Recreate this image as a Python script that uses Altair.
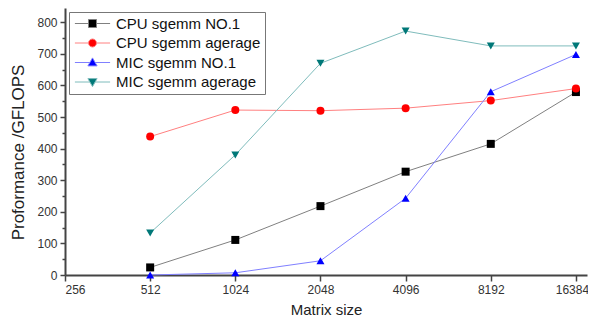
import altair as alt
import pandas as pd

# ---- data ----
sizes = [512, 1024, 2048, 4096, 8192, 16384]
series_names = ["CPU sgemm NO.1", "CPU sgemm agerage", "MIC sgemm NO.1", "MIC sgemm agerage"]
cpu_no1 = [24, 111, 218, 327, 415, 579]
cpu_avg = [438, 522, 520, 528, 552, 590]
mic_no1 = [0, 7, 45, 243, 580, 698]
mic_avg = [133, 380, 670, 772, 725, 725]
x_ticks = [256, 512, 1024, 2048, 4096, 8192, 16384]
y_ticks = [0, 100, 200, 300, 400, 500, 600, 700, 800]
y_minor = [50, 150, 250, 350, 450, 550, 650, 750]

# ---- styles ----
marker_colors = ["#000000", "#ff0000", "#0000ff", "#007878"]
line_colors = ["#808080", "#ff8080", "#8080ff", "#7fbcbc"]
marker_shapes = ["square", "circle", "triangle-up", "triangle-down"]
legend_paths = [
    "M-4.4,0H-1M1,0H4.4M-1,-1H1V1H-1Z",
    "M-4.4,0H-1M1,0H4.4M-1,0A1,1,0,1,0,1,0A1,1,0,1,0,-1,0Z",
    "M-4.4,0H-0.66M0.66,0H4.4M0,-1.15L1.15,0.85L-1.15,0.85Z",
    "M-4.4,0H-0.66M0.66,0H4.4M0,1.15L1.15,-0.85L-1.15,-0.85Z",
]
FONT = "Liberation Sans"

rows = []
for name, vals in zip(series_names, [cpu_no1, cpu_avg, mic_no1, mic_avg]):
    for s, v in zip(sizes, vals):
        rows.append({"size": s, "value": v, "series": name})
df = pd.DataFrame(rows)

x_enc = alt.X(
    "size:Q",
    scale=alt.Scale(type="log", base=2, domain=[256, 17928], nice=False),
    axis=alt.Axis(
        values=x_ticks, format="d", title="Matrix size", grid=False,
        domainColor="#444", domainWidth=2, tickColor="#444", tickWidth=1.5, tickSize=6,
        labelFont=FONT, labelFontSize=12, labelColor="#333", labelPadding=3,
        labelOffset={"condition": {"test": "datum.value == 16384", "value": -4}, "value": 0},
        titleFont=FONT, titleFontSize=15, titleFontWeight="normal", titleColor="#222",
        titlePadding=7,
    ),
)
y_scale = alt.Scale(domain=[0, 845], nice=False, zero=True)

base = alt.Chart(df)

lines = base.mark_line(strokeWidth=1).encode(
    x=x_enc,
    y=alt.Y(
        "value:Q", scale=y_scale,
        axis=alt.Axis(
            values=y_ticks, title="Proformance /GFLOPS", grid=False, orient="left",
            domainColor="#444", domainWidth=2, tickColor="#444", tickWidth=1.5, tickSize=5,
            labelFont=FONT, labelFontSize=12, labelColor="#333", labelPadding=3,
            titleFont=FONT, titleFontSize=17, titleFontWeight="normal", titleColor="#222",
            titlePadding=9, titleY=144,
        ),
    ),
    color=alt.Color("series:N", scale=alt.Scale(domain=series_names, range=line_colors), legend=None),
    detail="series:N",
)

points = base.mark_point(filled=True, size=64, opacity=1).encode(
    x=x_enc,
    y=alt.Y("value:Q", scale=y_scale, axis=None),
    fill=alt.Fill("series:N", scale=alt.Scale(domain=series_names, range=marker_colors), legend=None),
    shape=alt.Shape("series:N", scale=alt.Scale(domain=series_names, range=marker_shapes), legend=None),
)

legend_layer = base.transform_filter("datum.value < -1").mark_point(
    filled=True, size=64, strokeWidth=1, opacity=1
).encode(
    x=x_enc,
    y=alt.Y("value:Q", scale=y_scale, axis=None),
    fill=alt.Fill("series:N", scale=alt.Scale(domain=series_names, range=marker_colors), title=None,
                  legend=alt.Legend(title=None, orient="none", legendX=4, legendY=4, symbolSize=64,
                                    symbolStrokeWidth=1, labelFontSize=15, labelFont=FONT,
                                    labelColor="#111", padding=4, rowPadding=3.5, symbolOffset=12,
                                    labelOffset=16, strokeColor="#777", fillColor="white",
                                    symbolOpacity=1)),
    stroke=alt.Stroke("series:N", scale=alt.Scale(domain=series_names, range=line_colors), title=None),
    shape=alt.Shape("series:N", scale=alt.Scale(domain=series_names, range=legend_paths), title=None),
)

minor = base.mark_point(opacity=0).encode(
    x=x_enc,
    y=alt.Y("value:Q", scale=y_scale,
            axis=alt.Axis(values=y_minor, orient="left", labels=False, title=None, grid=False,
                          domain=False, tickColor="#444", tickWidth=1.5, tickSize=3)),
)

chart = alt.layer(lines, points, minor, legend_layer).resolve_scale(
    color="independent", fill="independent", stroke="independent", shape="independent"
).resolve_axis(y="independent").properties(
    width=522, height=267,
    autosize=alt.AutoSizeParams(type="none"),
    padding={"left": 57, "top": 0, "right": 1, "bottom": 43},
).configure_view(stroke=None)

chart.save("out.html", embed_options={"renderer": "svg", "actions": False})
